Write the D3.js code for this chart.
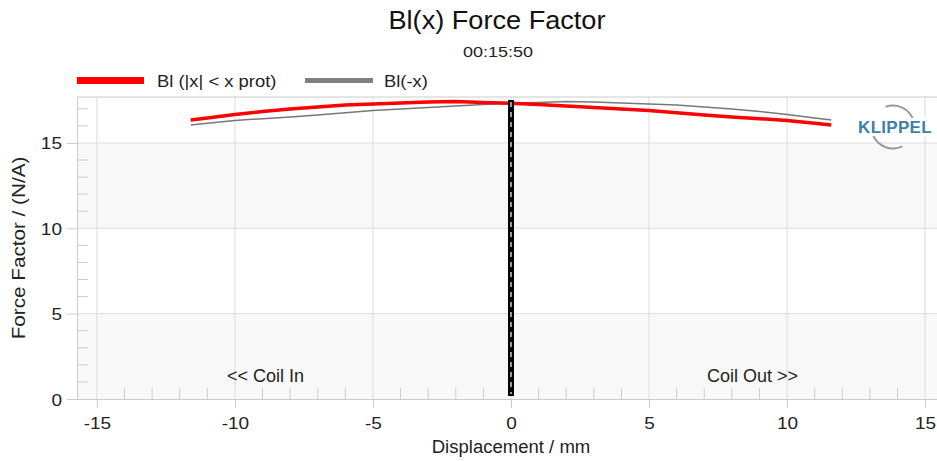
<!DOCTYPE html>
<html><head><meta charset="utf-8">
<script src="https://cdn.jsdelivr.net/npm/d3@7"></script>
<style>
body{margin:0;background:#fff;}
svg{display:block;font-family:"Liberation Sans",Arial,sans-serif;}
</style></head>
<body><svg id="c" width="937" height="461"></svg>
<script>
const displacement = [-11.6,-11,-10,-9,-8,-7,-6,-5,-4,-3,-2,-1,0,1,2,3,4,5,6,7,8,9,10,11,11.6];
const blProt = [16.34,16.46,16.67,16.84,16.99,17.11,17.22,17.28,17.34,17.40,17.42,17.37,17.32,17.25,17.16,17.08,16.99,16.90,16.77,16.64,16.52,16.42,16.32,16.15,16.05];
const blMirror = blProt.slice().reverse();
const xTicks = [-15,-10,-5,0,5,10,15];
const yTicks = [0,5,10,15];
const legendLabels = ["Bl (|x| < x prot)","Bl(-x)"];

const svg = d3.select("#c");
const L=77, R=945, T=97, B=399;
const x = d3.scaleLinear().domain([-15.72,15.72]).range([L,R]);
const y = d3.scaleLinear().domain([0,17.69]).range([B,T]);

function txt(parent, px, py, str, fs, sx, anchor, rot){
  const t = parent.append("text")
    .attr("transform", `translate(${px},${py})` + (rot?` rotate(${rot})`:"") + ` scale(${sx},1)`)
    .attr("text-anchor", anchor||"start").attr("font-size", fs).attr("fill","#222").text(str);
  return t;
}

// background bands
const bands=[[0,5],[10,15]];
svg.selectAll("rect.band").data(bands).enter().append("rect")
  .attr("x",L).attr("width",R-L).attr("y",d=>y(d[1])).attr("height",d=>y(d[0])-y(d[1]))
  .attr("fill","#f8f8f8");

// grid
svg.selectAll("line.vg").data(xTicks).enter().append("line")
  .attr("x1",d=>x(d)).attr("x2",d=>x(d)).attr("y1",T).attr("y2",B).attr("stroke","#dcdcdc");
svg.selectAll("line.hg").data(yTicks.filter(d=>d>0)).enter().append("line")
  .attr("x1",L).attr("x2",R).attr("y1",d=>y(d)).attr("y2",d=>y(d)).attr("stroke","#dcdcdc");
svg.append("line").attr("x1",L).attr("x2",R).attr("y1",T).attr("y2",T).attr("stroke","#ccc");

// minor ticks
const xMinor = d3.range(-15,16).filter(d=>d%5!==0);
svg.selectAll("line.xm").data(xMinor).enter().append("line")
  .attr("x1",d=>x(d)).attr("x2",d=>x(d)).attr("y1",B).attr("y2",B-11).attr("stroke","#ccc");
const yMinor = d3.range(1,18).filter(d=>d%5!==0);
svg.selectAll("line.ym").data(yMinor).enter().append("line")
  .attr("x1",L).attr("x2",L+11).attr("y1",d=>y(d)).attr("y2",d=>y(d)).attr("stroke","#ccc");

// axes
const xAxis = d3.axisBottom(x).tickValues(xTicks).tickSize(9).tickFormat(d=>String(d));
const gx = svg.append("g").attr("transform",`translate(0,${B})`).call(xAxis);
gx.select(".domain").attr("stroke","#ccc").attr("d",`M${L},0.5H${R}`);
gx.selectAll(".tick line").attr("stroke","#ccc");
gx.selectAll(".tick text").attr("y",null).attr("dy",null)
  .attr("transform","translate(0,30) scale(1.12,1)")
  .attr("font-size",17).attr("fill","#222").attr("font-family","Liberation Sans, Arial, sans-serif");
const yAxis = d3.axisLeft(y).tickValues(yTicks).tickSize(10).tickFormat(d=>String(d));
const gy = svg.append("g").attr("transform",`translate(${L},0)`).call(yAxis);
gy.select(".domain").attr("stroke","#ccc").attr("d",`M0.5,${T}V${B}`);
gy.selectAll(".tick line").attr("stroke","#ccc");
gy.selectAll(".tick text").attr("x",null).attr("dy",null)
  .attr("transform","translate(-15,6) scale(1.12,1)")
  .attr("font-size",17).attr("fill","#222").attr("font-family","Liberation Sans, Arial, sans-serif");

// annotations
txt(svg, 227, 382, "<< Coil In", 18, 1, "start");
txt(svg, 707, 382, "Coil Out >>", 18, 1, "start");

// lines
const line = d3.line().x(d=>x(d[0])).y(d=>y(d[1]));
svg.append("path").datum(displacement.map((d,i)=>[d,blMirror[i]]))
  .attr("d",line).attr("fill","none").attr("stroke","#777").attr("stroke-width",1.5);
svg.append("path").datum(displacement.map((d,i)=>[d,blProt[i]]))
  .attr("d",line).attr("fill","none").attr("stroke","#ff0000").attr("stroke-width",3.5);

// zero marker
svg.append("line").attr("x1",x(0)).attr("x2",x(0)).attr("y1",100).attr("y2",396).attr("stroke","#000").attr("stroke-width",6);
svg.append("line").attr("x1",x(0)).attr("x2",x(0)).attr("y1",102).attr("y2",394).attr("stroke","#fff").attr("stroke-width",1.2).attr("stroke-dasharray","5,5");

// title
txt(svg, 497, 29, "Bl(x) Force Factor", 25, 1.085, "middle").attr("fill","#111");
txt(svg, 498, 57, "00:15:50", 15.5, 1.16, "middle");

// legend
svg.append("rect").attr("x",77).attr("y",77).attr("width",67).attr("height",7).attr("fill","#ff0000");
txt(svg, 157, 87, legendLabels[0], 16, 1.15, "start");
svg.append("rect").attr("x",305).attr("y",78).attr("width",68).attr("height",5).attr("fill","#808080");
txt(svg, 384, 87, legendLabels[1], 16, 1.15, "start");

// axis titles
txt(svg, 511, 453, "Displacement / mm", 18, 1.03, "middle");
txt(svg, 25, 248, "Force Factor / (N/A)", 18, 1.15, "middle", -90);

// logo
const lg = svg.append("g").attr("transform","translate(893,127)");
const arc = d3.arc().innerRadius(20.5).outerRadius(22.5);
lg.append("path").attr("d",arc({startAngle:-0.35,endAngle:1.25})).attr("fill","#9a9a9a");
lg.append("path").attr("d",arc({startAngle:Math.PI-0.45,endAngle:Math.PI+1.15})).attr("fill","#9a9a9a");
lg.append("rect").attr("x",-38).attr("y",-9).attr("width",77).attr("height",18).attr("fill","#fff");
lg.append("text").attr("x",2).attr("y",6).attr("text-anchor","middle").attr("font-size",17).attr("font-weight","bold").attr("fill","#3f7fa8").attr("letter-spacing",0.3).text("KLIPPEL");
</script></body></html>
